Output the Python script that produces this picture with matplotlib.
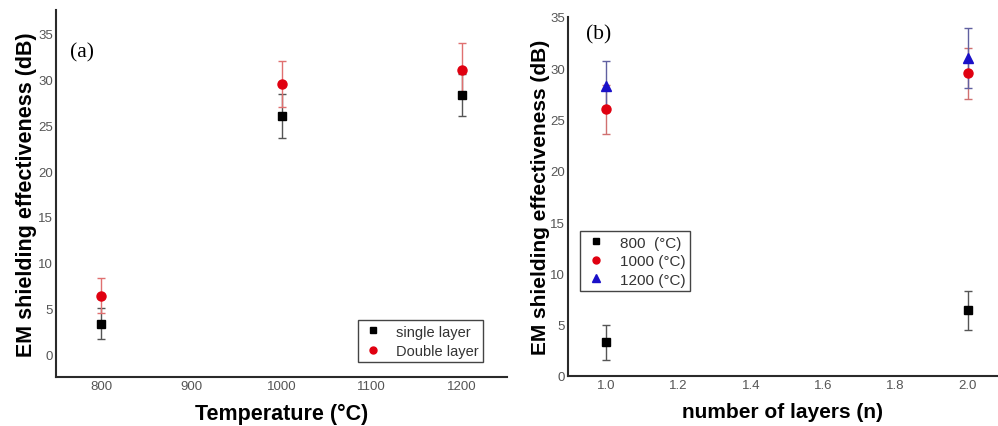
import matplotlib
matplotlib.use("Agg")
import matplotlib.pyplot as plt
from matplotlib.lines import Line2D

plt.rcParams['font.family'] = ['Liberation Sans', 'DejaVu Sans']

# ---- data ----
temperatures = [800, 1000, 1200]
single_layer = [3.3, 26.0, 28.3]
single_err = [1.7, 2.4, 2.3]
double_layer = [6.4, 29.5, 31.0]
double_err = [1.9, 2.5, 3.0]

layers = [1.0, 2.0]
se_800 = [3.3, 6.4]
err_800 = [1.7, 1.9]
se_1000 = [26.0, 29.5]
err_1000 = [2.4, 2.5]
se_1200 = [28.3, 31.0]
err_1200 = [2.4, 2.9]

legend_a = ['single layer', 'Double layer']
legend_b = ['800  (°C)', '1000 (°C)', '1200 (°C)']

W, H = 998, 427
fig = plt.figure(figsize=(W / 100, H / 100), dpi=100)

def px_axes(l, t, r, b):
    return fig.add_axes([l / W, (H - b) / H, (r - l) / W, (b - t) / H])

def style(ax):
    for s in ['top', 'right']:
        ax.spines[s].set_visible(False)
    for s in ['left', 'bottom']:
        ax.spines[s].set_color('#2a2a2a')
        ax.spines[s].set_linewidth(1.5)
    ax.tick_params(length=0, pad=2, labelsize=9.5, labelcolor='#555555')

BLACK = '#000000'
RED = '#e00010'
BLUE = '#1a10c8'

def marker_handle(marker, color, ms):
    return Line2D([], [], linestyle='none', marker=marker, color=color, ms=ms)

# ---- panel (a) ----
ax1 = px_axes(56, 11, 507, 378)
style(ax1)
ax1.errorbar(temperatures, single_layer, yerr=single_err, fmt='s', color=BLACK,
             ecolor='#555555', elinewidth=1, capsize=3, ms=6, zorder=3)
ax1.errorbar(temperatures, double_layer, yerr=double_err, fmt='o', color=RED,
             ecolor='#e07070', elinewidth=1, capsize=3, ms=6.5, zorder=3)
ax1.set_xlim(750, 1250)
ax1.set_ylim(-2.5, 37.6)
ax1.set_xticks([800, 900, 1000, 1100, 1200])
ax1.set_yticks([0, 5, 10, 15, 20, 25, 30, 35])
ax1.set_xlabel('Temperature (°C)', fontsize=15.5, fontweight='bold', labelpad=8)
ax1.set_ylabel('EM shielding effectiveness (dB)', fontsize=15.5, fontweight='bold', labelpad=1)
ax1.text(0.031, 0.886, '(a)', transform=ax1.transAxes, fontsize=15.5,
         family='Liberation Serif', va='center', ha='left')
leg1 = ax1.legend([marker_handle('s', BLACK, 4.5), marker_handle('o', RED, 5)], legend_a,
                  loc='lower right', bbox_to_anchor=(483 / W, (H - 363) / H),
                  bbox_transform=fig.transFigure, borderaxespad=0, fontsize=10.5,
                  fancybox=False, edgecolor='#444444', framealpha=1,
                  handletextpad=0.8, borderpad=0.3, labelspacing=0.35, handlelength=1.5)
leg1.get_frame().set_linewidth(1.0)
for t in leg1.get_texts():
    t.set_color('#333333')

# ---- panel (b) ----
ax2 = px_axes(568, 18, 998, 377)
style(ax2)
ax2.errorbar(layers, se_800, yerr=err_800, fmt='s', color=BLACK,
             ecolor='#555555', elinewidth=1, capsize=3, ms=6, zorder=3)
ax2.errorbar(layers, se_1000, yerr=err_1000, fmt='o', color=RED,
             ecolor='#d07070', elinewidth=1, capsize=3, ms=6.5, zorder=3)
ax2.errorbar(layers, se_1200, yerr=err_1200, fmt='^', color=BLUE,
             ecolor='#6060a0', elinewidth=1, capsize=3, ms=7, zorder=3)
ax2.set_xlim(0.895, 2.083)
ax2.set_ylim(0, 35)
ax2.set_xticks([1.0, 1.2, 1.4, 1.6, 1.8, 2.0])
ax2.set_yticks([0, 5, 10, 15, 20, 25, 30, 35])
ax2.set_xlabel('number of layers (n)', fontsize=15, fontweight='bold', labelpad=8)
ax2.set_ylabel('EM shielding effectiveness (dB)', fontsize=15, fontweight='bold', labelpad=0)
ax2.text(0.043, 0.953, '(b)', transform=ax2.transAxes, fontsize=15.5,
         family='Liberation Serif', va='center', ha='left')
leg2 = ax2.legend([marker_handle('s', BLACK, 4.5), marker_handle('o', RED, 5),
                   marker_handle('^', BLUE, 5.5)], legend_b,
                  loc='upper left', bbox_to_anchor=(580 / W, (H - 232) / H),
                  bbox_transform=fig.transFigure, borderaxespad=0, fontsize=11,
                  fancybox=False, edgecolor='#444444', framealpha=1,
                  handletextpad=0.8, borderpad=0.3, labelspacing=0.3, handlelength=1.5)
leg2.get_frame().set_linewidth(1.0)
for t in leg2.get_texts():
    t.set_color('#333333')

fig.savefig('out.png', dpi=100)
